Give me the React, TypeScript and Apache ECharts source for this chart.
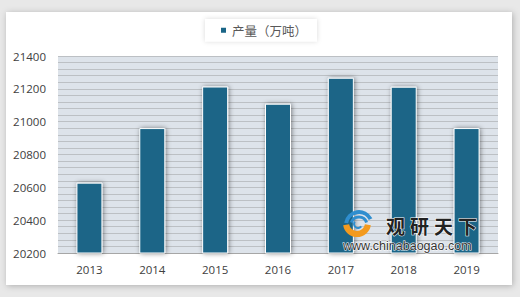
import React, { useEffect, useRef } from "react";
import * as echarts from "echarts";

const years = ["2013", "2014", "2015", "2016", "2017", "2018", "2019"];
const output = [20628.6, 20960.9, 21214.2, 21109.4, 21267.6, 21212.9, 20961.0];
const seriesName = "产量（万吨）";
const yMin = 20200;
const yMax = 21400;
const yStep = 200;
const brandChars = ["观", "研", "天", "下"];

export default function App() {
  const ref = useRef<HTMLDivElement>(null);
  useEffect(() => {
    if (!ref.current) return;
    const chart = echarts.init(ref.current, null, { renderer: "svg" });
    const P = Math.PI;
    chart.setOption({
      animation: false,
      backgroundColor: "#e8e8e8",
      graphic: [
        {
          type: "rect",
          z: -10,
          shape: { x: 6, y: 12, width: 506, height: 273 },
          style: { fill: "#ffffff", shadowBlur: 6, shadowColor: "rgba(0,0,0,0.25)", shadowOffsetX: 1, shadowOffsetY: 1 },
        },
        { type: "arc", z: 100, shape: { cx: 359, cy: 225, r: 13, startAngle: P * 1.05, endAngle: P * 1.85 }, style: { stroke: "#2f8ecf", lineWidth: 4, fill: "none" } },
        { type: "arc", z: 100, shape: { cx: 359, cy: 225, r: 8, startAngle: P * 1.1, endAngle: P * 1.9 }, style: { stroke: "#2f8ecf", lineWidth: 3, fill: "none" } },
        { type: "arc", z: 100, shape: { cx: 357, cy: 223, r: 11, startAngle: P * 0.05, endAngle: P * 0.95 }, style: { stroke: "#f39a1e", lineWidth: 6, fill: "none" } },
        { type: "arc", z: 100, shape: { cx: 358, cy: 224, r: 4, startAngle: P * 0.2, endAngle: P * 1.2 }, style: { stroke: "#2f8ecf", lineWidth: 2, fill: "none" } },
        ...brandChars.map((c, i) => ({
          type: "text",
          z: 100,
          x: 386 + i * 24,
          y: 225,
          style: { text: c, fontSize: 19, fontWeight: "bold", fill: "#222222", stroke: "#ffffff", lineWidth: 1, fontFamily: "Noto Sans CJK SC", verticalAlign: "middle" },
        })),
        { type: "text", z: 100, x: 343, y: 245.5, style: { text: "www.chinabaogao.com", fontSize: 12.5, fill: "#333333", stroke: "#ffffff", lineWidth: 1, fontFamily: "Liberation Sans", verticalAlign: "middle" } },
      ],
      legend: {
        left: 205,
        top: 19,
        padding: [5, 10, 5, 14],
        backgroundColor: "#ffffff",
        shadowBlur: 5,
        shadowColor: "rgba(0,0,0,0.15)",
        itemWidth: 7,
        itemHeight: 7,
        itemGap: 4,
        icon: "rect",
        textStyle: { fontSize: 12.5, color: "#595959", fontFamily: "Noto Sans CJK SC" },
        data: [seriesName],
      },
      grid: {
        left: 58,
        right: 22,
        top: 56,
        bottom: 44,
        show: true,
        backgroundColor: "#dde3ea",
        borderWidth: 0,
      },
      xAxis: {
        type: "category",
        data: years,
        axisLine: { lineStyle: { color: "#a6a6a6", width: 1 } },
        axisTick: { show: false },
        axisLabel: { color: "#404040", fontSize: 11.5, margin: 10, fontFamily: "Open Sans" },
      },
      yAxis: {
        type: "value",
        min: yMin,
        max: yMax,
        interval: yStep,
        axisLine: { show: false },
        axisTick: { show: false },
        axisLabel: { color: "#404040", fontSize: 11.5, margin: 12, fontFamily: "Open Sans", formatter: (v: number) => String(v) },
        splitLine: { lineStyle: { color: "#bcc0c4", width: 1 } },
        minorTick: { show: false, splitNumber: 5 },
        minorSplitLine: { show: true, lineStyle: { color: "#bcc0c4", width: 1 } },
      },
      series: [
        {
          name: seriesName,
          type: "bar",
          data: output,
          barWidth: 26,
          z: 2,
          itemStyle: {
            color: "#1a6587",
            borderColor: "#ffffff",
            borderWidth: 1,
            shadowBlur: 5,
            shadowColor: "rgba(0,0,0,0.45)",
            shadowOffsetX: 1,
            shadowOffsetY: 0,
          },
        },
      ],
    });
    return () => chart.dispose();
  }, []);
  return <div ref={ref} style={{ position: "absolute", left: 0, top: 0, width: 520, height: 297 }} />;
}
